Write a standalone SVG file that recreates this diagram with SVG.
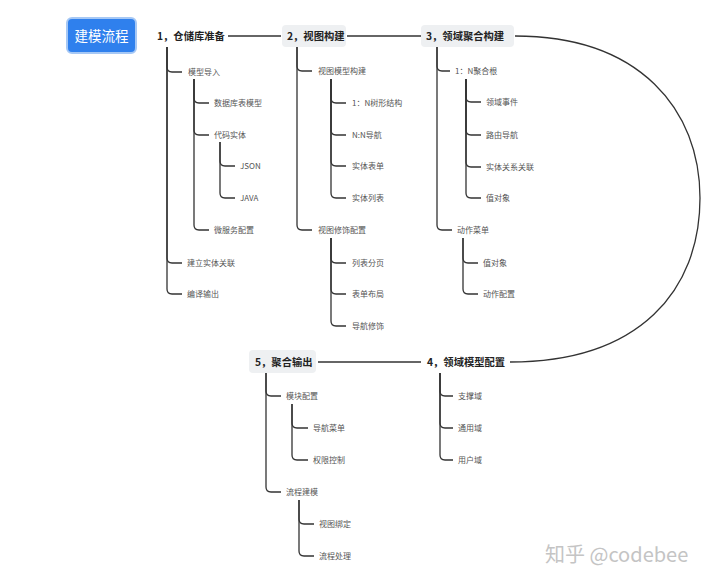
<svg xmlns="http://www.w3.org/2000/svg" width="720" height="586" viewBox="0 0 720 586">
<style>
text{font-family:"Noto Sans CJK SC","Noto Sans",sans-serif}
.m{font-size:10.3px;font-weight:bold;fill:#222}
.c{font-size:8px;fill:#555}
.bg{fill:#eef0f2}
#connectors path{fill:none;stroke:#333;stroke-width:1.3}
</style>
<rect width="720" height="586" fill="#fff"/>
<g id="connectors">
<path d="M228,36 H281"/>
<path d="M347,36 H421"/>
<path d="M515,36 C640,36 700,110 700,198 C700,290 640,362 510,362"/>
<path d="M318,362 H421"/>
<path d="M167,47 V67 Q167,72 172,72 H182"/>
<path d="M167,47 V258 Q167,263 172,263 H182"/>
<path d="M167,47 V289 Q167,294 172,294 H182"/>
<path d="M194,79 V98 Q194,103 199,103 H209"/>
<path d="M194,79 V130 Q194,135 199,135 H209"/>
<path d="M194,79 V225 Q194,230 199,230 H209"/>
<path d="M220,142 V161 Q220,166 225,166 H235"/>
<path d="M220,142 V193 Q220,198 225,198 H235"/>
<path d="M297,47 V66 Q297,71 302,71 H312"/>
<path d="M297,47 V225 Q297,230 302,230 H312"/>
<path d="M331,79 V98 Q331,103 336,103 H346"/>
<path d="M331,79 V130 Q331,135 336,135 H346"/>
<path d="M331,79 V161 Q331,166 336,166 H346"/>
<path d="M331,79 V193 Q331,198 336,198 H346"/>
<path d="M331,238 V258 Q331,263 336,263 H346"/>
<path d="M331,238 V289 Q331,294 336,294 H346"/>
<path d="M331,238 V321 Q331,326 336,326 H346"/>
<path d="M437,47 V66 Q437,71 442,71 H450"/>
<path d="M437,47 V225 Q437,230 442,230 H452"/>
<path d="M466,79 V97 Q466,102 471,102 H481"/>
<path d="M466,79 V130 Q466,135 471,135 H481"/>
<path d="M466,79 V162 Q466,167 471,167 H481"/>
<path d="M466,79 V193 Q466,198 471,198 H481"/>
<path d="M463,238 V258 Q463,263 468,263 H478"/>
<path d="M463,238 V289 Q463,294 468,294 H478"/>
<path d="M266,373 V391 Q266,396 271,396 H281"/>
<path d="M266,373 V487 Q266,492 271,492 H281"/>
<path d="M292,404 V423 Q292,428 297,428 H308"/>
<path d="M292,404 V455 Q292,460 297,460 H308"/>
<path d="M299,500 V519 Q299,524 304,524 H314"/>
<path d="M299,500 V551 Q299,556 304,556 H314"/>
<path d="M440,373 V391 Q440,396 445,396 H453"/>
<path d="M440,373 V423 Q440,428 445,428 H453"/>
<path d="M440,373 V455 Q440,460 445,460 H453"/>
</g>
<g id="root">
<rect x="67" y="18" width="69" height="35" rx="5" fill="#2f80ed" stroke="#a6c8f5" stroke-width="2"/>
<text x="101.5" y="40.5" text-anchor="middle" font-size="13.5" fill="#fff">建模流程</text>
</g>
<g id="n1">
<text class="m" x="157" y="40">1，仓储库准备</text>
<text class="c" x="188" y="75">模型导入</text>
<text class="c" x="214" y="106">数据库表模型</text>
<text class="c" x="214" y="138">代码实体</text>
<text class="c" x="240" y="169">JSON</text>
<text class="c" x="240" y="201">JAVA</text>
<text class="c" x="214" y="233">微服务配置</text>
<text class="c" x="187" y="266">建立实体关联</text>
<text class="c" x="187" y="297">编译输出</text>
</g>
<g id="n2">
<rect class="bg" x="282" y="25" width="64" height="22" rx="4"/>
<text class="m" x="287" y="40">2，视图构建</text>
<text class="c" x="318" y="74">视图模型构建</text>
<text class="c" x="352" y="106">1：N树形结构</text>
<text class="c" x="352" y="138">N:N导航</text>
<text class="c" x="352" y="169">实体表单</text>
<text class="c" x="352" y="201">实体列表</text>
<text class="c" x="318" y="233">视图修饰配置</text>
<text class="c" x="352" y="266">列表分页</text>
<text class="c" x="352" y="297">表单布局</text>
<text class="c" x="352" y="329">导航修饰</text>
</g>
<g id="n3">
<rect class="bg" x="421" y="25" width="93" height="22" rx="4"/>
<text class="m" x="426" y="40">3，领域聚合构建</text>
<text class="c" x="455" y="74">1：N聚合根</text>
<text class="c" x="486" y="105">领域事件</text>
<text class="c" x="486" y="138">路由导航</text>
<text class="c" x="486" y="170">实体关系关联</text>
<text class="c" x="486" y="201">值对象</text>
<text class="c" x="457" y="233">动作菜单</text>
<text class="c" x="483" y="266">值对象</text>
<text class="c" x="483" y="297">动作配置</text>
</g>
<g id="n5">
<rect class="bg" x="249" y="350" width="67" height="23" rx="4"/>
<text class="m" x="255" y="366">5，聚合输出</text>
<text class="c" x="286" y="399">模块配置</text>
<text class="c" x="313" y="431">导航菜单</text>
<text class="c" x="313" y="463">权限控制</text>
<text class="c" x="286" y="495">流程建模</text>
<text class="c" x="319" y="527">视图绑定</text>
<text class="c" x="319" y="559">流程处理</text>
</g>
<g id="n4">
<text class="m" x="427" y="366">4，领域模型配置</text>
<text class="c" x="458" y="399">支撑域</text>
<text class="c" x="458" y="431">通用域</text>
<text class="c" x="458" y="463">用户域</text>
</g>
<text x="545" y="562" font-size="20" fill="#c4c4c4">知乎 @codebee</text>
</svg>
